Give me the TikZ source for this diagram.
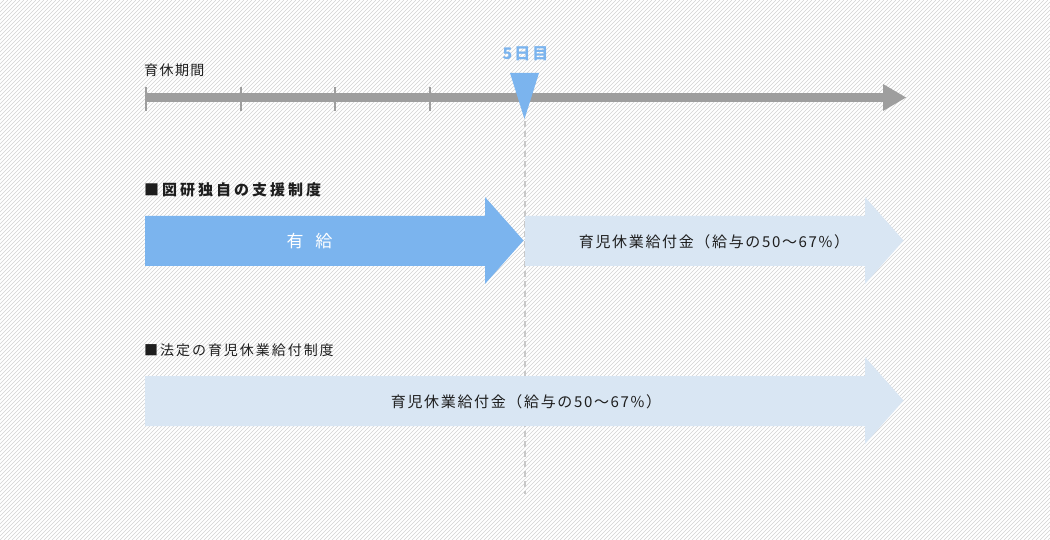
\documentclass[tikz,border=0pt]{standalone}
\usepackage{fontspec}
\newfontfamily\jp{Noto Sans CJK JP}
\newfontfamily\jpten{Noto Sans CJK JP}[LetterSpace=10]
\newfontfamily\jpnine{Noto Sans CJK JP}[LetterSpace=11]
\newfontfamily\jpfourteen{Noto Sans CJK JP}[LetterSpace=14]
\newfontfamily\jptwenty{Noto Sans CJK JP}[LetterSpace=20]
\newfontfamily\jpday{Noto Sans CJK JP}[LetterSpace=12]
\definecolor{tlgray}{HTML}{9E9E9E}
\definecolor{paidblue}{HTML}{7BB4EE}
\definecolor{lightblue}{HTML}{D9E6F3}
\definecolor{stripegray}{HTML}{D3D3D3}
\definecolor{dashgray}{HTML}{C8C8C8}
\definecolor{txt}{HTML}{1E1E1E}
\tikzset{
  stripe/.style={draw=stripegray, line width=0.6pt},
  tick/.style={draw=tlgray, line width=2pt},
  bar/.style={draw=tlgray, line width=9pt},
  marker/.style={dashgray, line width=2pt, dash pattern=on 6pt off 4pt},
  label/.style={inner sep=0pt, text=txt, font=\jpnine\fontsize{15}{17}\selectfont},
  hdr/.style={inner sep=0pt, anchor=west, text=txt},
}
\begin{document}
\begin{tikzpicture}[x=1pt,y=-1pt]
\useasboundingbox (0,0) rectangle (1050,540);
\fill[white] (0,0) rectangle (1050,540);
\begin{scope}
\clip (0,0) rectangle (1050,540);
\foreach \i in {-544,-540,...,1052} \draw[stripe] (\i,540) -- ++(540,-540);
\end{scope}

% timeline
\coordinate (tlstart) at (145,97.5);
\coordinate (tlend) at (884,97.5);
\draw[bar] (tlstart) -- (tlend);
\fill[tlgray] (883,84) -- (906,97.5) -- (883,111) -- cycle;
\foreach \x in {146,241,335,430} \draw[tick] (\x,87) -- (\x,111);
\node[hdr, font=\jpten\fontsize{14}{16}\selectfont] (period) at (144,70) {育休期間};

% day-5 marker
\coordinate (mtop) at (524.5,121);
\coordinate (mbot) at (524.5,494);
\draw[marker] (mtop) -- (mbot);
\fill[paidblue] (510,73) -- (539,73) -- (524.5,119) -- cycle;
\node[inner sep=0pt, text=paidblue, font=\jpday\bfseries\fontsize{16}{18}\selectfont] (day5) at (525.5,54) {5日目};

% company scheme
\node[hdr, font=\jptwenty\bfseries\fontsize{15}{17}\selectfont] (hdr1) at (144,190) {■図研独自の支援制度};
\fill[paidblue] (145,216) -- (485,216) -- (485,197) -- (523.5,240.5) -- (485,284) -- (485,266) -- (145,266) -- cycle;
\node[inner sep=0pt, text=white, font=\jp\fontsize{17}{19}\selectfont] (paid) at (309.5,241) {有\hspace{12pt}給};
\fill[lightblue] (525,216) -- (865,216) -- (865,197) -- (903.5,240.5) -- (865,284) -- (865,266) -- (525,266) -- cycle;
\node[label] (benefit1) at (714,242) {育児休業給付金（給与の50～67\%）};

% statutory scheme
\node[hdr, font=\jpfourteen\fontsize{14}{16}\selectfont] (hdr2) at (144,350) {■法定の育児休業給付制度};
\fill[lightblue] (145,376) -- (865,376) -- (865,357) -- (903.5,400.5) -- (865,444) -- (865,426) -- (145,426) -- cycle;
\node[label] (benefit2) at (526,402) {育児休業給付金（給与の50～67\%）};
\end{tikzpicture}
\end{document}
